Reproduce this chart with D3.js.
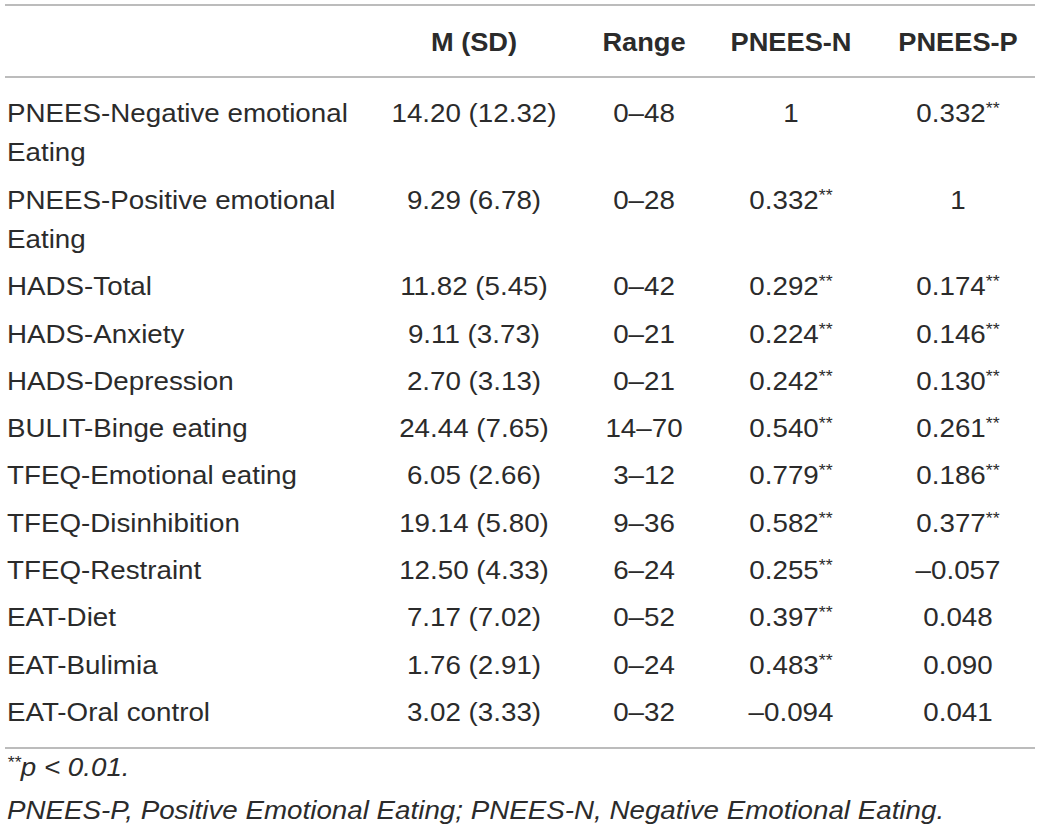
<!DOCTYPE html>
<html><head><meta charset="utf-8">
<script src="https://cdn.jsdelivr.net/npm/d3@7"></script>
<style>
html,body{margin:0;padding:0;background:#fff;}
svg{display:block;}
</style></head>
<body>
<svg id="chart" width="1040" height="833"></svg>
<script>
const headers = ["", "M (SD)", "Range", "PNEES-N", "PNEES-P"];
const labels = [
  ["PNEES-Negative emotional", "Eating"],
  ["PNEES-Positive emotional", "Eating"],
  ["HADS-Total"], ["HADS-Anxiety"], ["HADS-Depression"], ["BULIT-Binge eating"],
  ["TFEQ-Emotional eating"], ["TFEQ-Disinhibition"], ["TFEQ-Restraint"],
  ["EAT-Diet"], ["EAT-Bulimia"], ["EAT-Oral control"]
];
const means = [14.20, 9.29, 11.82, 9.11, 2.70, 24.44, 6.05, 19.14, 12.50, 7.17, 1.76, 3.02];
const sds = [12.32, 6.78, 5.45, 3.73, 3.13, 7.65, 2.66, 5.80, 4.33, 7.02, 2.91, 3.33];
const ranges = ["0–48","0–28","0–42","0–21","0–21","14–70","3–12","9–36","6–24","0–52","0–24","0–32"];
const corrN = [1, 0.332, 0.292, 0.224, 0.242, 0.540, 0.779, 0.582, 0.255, 0.397, 0.483, -0.094];
const sigN  = [false, true, true, true, true, true, true, true, true, true, true, false];
const corrP = [0.332, 1, 0.174, 0.146, 0.130, 0.261, 0.186, 0.377, -0.057, 0.048, 0.090, 0.041];
const sigP  = [true, false, true, true, true, true, true, true, false, false, false, false];
const notes = ["p < 0.01.", "PNEES-P, Positive Emotional Eating; PNEES-N, Negative Emotional Eating."];

const svg = d3.select("#chart");
const FONT = "'Liberation Sans', Arial, Helvetica, sans-serif";
const TXT = "#2b2b2b";
const SX = 1.11;

const colX = d3.scaleOrdinal().domain(headers).range([7, 474, 644, 791, 958]);

// row layout (vertical centres of first text line)
const lineH = 39.3, baseH = 47.3;
const rowCenters = [];
let acc = 113;
labels.forEach((l) => { rowCenters.push(acc); acc += baseH + (l.length - 1) * lineH; });

const fmt = v => v === 1 ? "1" : d3.format(".3f")(v).replace("-", "–").replace("−", "–");

function addText(g, x, y, anchor, parts, opts = {}) {
  const t = g.append("text")
    .attr("transform", `translate(${x},${y}) scale(${opts.sx || SX},1)`)
    .attr("text-anchor", anchor)
    .attr("font-family", FONT)
    .attr("font-size", opts.size || 25)
    .attr("font-weight", opts.weight || "normal")
    .attr("font-style", opts.italic ? "italic" : "normal")
    .attr("fill", TXT);
  parts.forEach(p => {
    const ts = t.append("tspan").text(p.text);
    if (p.sup) ts.attr("font-size", 16).attr("dy", -8);
    if (p.down) ts.attr("dy", 8);
  });
  return t;
}

// rules
const rules = [5, 77, 748];
svg.selectAll("line.rule").data(rules).enter().append("line")
  .attr("x1", 5).attr("x2", 1035)
  .attr("y1", d => d).attr("y2", d => d)
  .attr("stroke", "#a6a6a6").attr("stroke-width", 1.6);

// headers
const hg = svg.append("g");
headers.forEach((h) => {
  if (!h) return;
  addText(hg, colX(h), 50.5, "middle", [{text: h}], {weight: "bold", sx: 1.09});
});

// body
const bg = svg.append("g");
labels.forEach((lab, i) => {
  const y = rowCenters[i] + 9;
  lab.forEach((line, k) => addText(bg, colX(""), y + k * lineH, "start", [{text: line}]));
  addText(bg, colX("M (SD)"), y, "middle", [{text: `${means[i].toFixed(2)} (${sds[i].toFixed(2)})`}]);
  addText(bg, colX("Range"), y, "middle", [{text: ranges[i]}]);
  const pn = [{text: fmt(corrN[i])}];
  if (sigN[i]) pn.push({text: "**", sup: true});
  addText(bg, colX("PNEES-N"), y, "middle", pn);
  const pp = [{text: fmt(corrP[i])}];
  if (sigP[i]) pp.push({text: "**", sup: true});
  addText(bg, colX("PNEES-P"), y, "middle", pp);
});

// notes
const ng = svg.append("g");
addText(ng, 7, 776, "start", [{text: "**", sup: true}, {text: notes[0], down: true}], {italic: true, sx: 1.11});
addText(ng, 7, 819, "start", [{text: notes[1]}], {italic: true, sx: 1.11});
</script>
</body></html>
